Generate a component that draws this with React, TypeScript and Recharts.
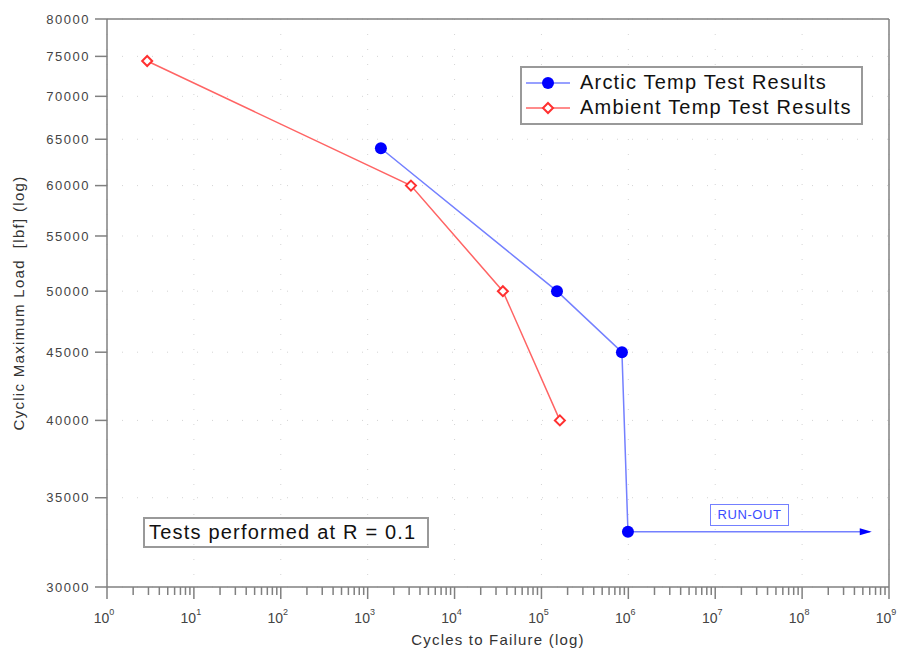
import React from 'react';
import {
  LineChart,
  Line,
  XAxis,
  YAxis,
  CartesianGrid,
  Legend,
  ReferenceLine
} from 'recharts';

// values (cycles on a log axis, load in lbf)
const arcticCycles = [1420, 151000, 844000, 990000];
const arcticLoad = [64000, 50000, 45000, 33000];
const ambientCycles = [2.9, 3150, 36000, 163000];
const ambientLoad = [74400, 60000, 50000, 40000];
const runOutCycles = [990000, 600000000];
const runOutLoad = [33000, 33000];

const decadeExponents = [0, 1, 2, 3, 4, 5, 6, 7, 8, 9];
const minorSteps = [1, 2, 3, 4, 5, 6, 7, 8, 9];
const loadTicks = [30000, 35000, 40000, 45000, 50000, 55000, 60000, 65000, 70000, 75000, 80000];
const legendOrder = ['Arctic Temp Test Results', 'Ambient Temp Test Results'];

const decades = decadeExponents.map(e => Math.pow(10, e));
const cycleTicks = decades.flatMap((d, i) =>
  i === decades.length - 1 ? [d] : minorSteps.map(s => s * d)
);

const arcticData = arcticCycles.map((c, i) => ({ cycles: c, load: arcticLoad[i] }));
const ambientData = ambientCycles.map((c, i) => ({ cycles: c, load: ambientLoad[i] }));
const runOutData = runOutCycles.map((c, i) => ({ cycles: c, load: runOutLoad[i] }));

const FONT = '"Liberation Sans", Arial, sans-serif';
const BLUE_LINE = '#7480ff';
const BLUE_DOT = '#0000ff';
const RED_LINE = '#ff6464';
const RED_DOT = '#ff3030';
const AXIS = '#808080';

function CycleTick(props: any) {
  const { x, y, payload } = props;
  const lg = Math.log10(payload.value);
  const exp = Math.round(lg);
  const major = Math.abs(lg - exp) < 1e-6;
  return (
    <g>
      <line x1={x} x2={x} y1={y} y2={y + (major ? 12 : 8)} stroke={AXIS} strokeWidth={1.5} />
      {major && (
        <text x={x - 3} y={y + 36} textAnchor="middle" fontSize={14} fill="#444" fontFamily={FONT}>
          10
          <tspan dy={-8} fontSize={9}>{exp}</tspan>
        </text>
      )}
    </g>
  );
}

function BlueDot(props: any) {
  const { cx, cy, index } = props;
  return <circle key={`a-${index}`} cx={cx} cy={cy} r={6} fill={BLUE_DOT} />;
}

function RedDot(props: any) {
  const { cx, cy, index } = props;
  const s = 5;
  return (
    <polygon
      key={`b-${index}`}
      points={`${cx},${cy - s} ${cx + s},${cy} ${cx},${cy + s} ${cx - s},${cy}`}
      fill="#fff"
      stroke={RED_DOT}
      strokeWidth={2}
    />
  );
}

function ArrowDot(props: any) {
  const { cx, cy, index } = props;
  if (index !== runOutData.length - 1) return <g key={`r-${index}`} />;
  return (
    <polygon
      key={`r-${index}`}
      points={`${cx - 10},${cy - 3.5} ${cx + 2},${cy} ${cx - 10},${cy + 3.5}`}
      fill={BLUE_DOT}
    />
  );
}

function YTitle(props: any) {
  const { viewBox } = props;
  const cy = viewBox.y + viewBox.height / 2;
  return (
    <text
      x={24}
      y={cy}
      transform={`rotate(-90, 24, ${cy})`}
      textAnchor="middle"
      fontSize={15}
      fill="#333"
      fontFamily={FONT}
      letterSpacing={1.3}
      style={{ whiteSpace: 'pre' }}
    >
      {'Cyclic Maximum Load  [lbf] (log)'}
    </text>
  );
}

function renderLegend(props: any) {
  const items = (props.payload || [])
    .filter((p: any) => p.type !== 'none')
    .sort((a: any, b: any) => legendOrder.indexOf(a.value) - legendOrder.indexOf(b.value));
  return (
    <div
      style={{
        border: '2px solid #999',
        background: '#fff',
        height: 53,
        boxSizing: 'content-box',
        paddingTop: 2,
        fontFamily: FONT
      }}
    >
      {items.map((item: any) => {
        const arctic = item.value.startsWith('Arctic');
        return (
          <div key={item.value} style={{ display: 'flex', alignItems: 'center', height: 25 }}>
            <svg width={50} height={20} style={{ marginLeft: 4 }}>
              <line x1={0} x2={44} y1={10} y2={10} stroke={arctic ? BLUE_LINE : RED_LINE} strokeWidth={1.5} />
              {arctic ? (
                <circle cx={22} cy={10} r={6} fill={BLUE_DOT} />
              ) : (
                <polygon points="22,5 27,10 22,15 17,10" fill="#fff" stroke={RED_DOT} strokeWidth={2} />
              )}
            </svg>
            <span style={{ fontSize: 20, letterSpacing: 1.2, color: '#111', marginLeft: 4 }}>{item.value}</span>
          </div>
        );
      })}
    </div>
  );
}

export default function App() {
  return (
    <div style={{ position: 'absolute', left: 0, top: 0, width: 901, height: 649, background: '#fff' }}>
      <LineChart width={901} height={649} margin={{ top: 19, right: 12, bottom: 0, left: 0 }}>
        <CartesianGrid
          stroke="#d4d4d4"
          strokeDasharray="1 14"
          verticalValues={decades}
          horizontalValues={loadTicks}
        />
        <XAxis
          dataKey="cycles"
          type="number"
          scale="log"
          domain={[1, 1e9]}
          ticks={cycleTicks}
          interval={0}
          allowDataOverflow
          height={62}
          tickSize={0}
          tickMargin={0}
          tickLine={false}
          tick={<CycleTick />}
          axisLine={{ stroke: AXIS, strokeWidth: 1.5 }}
          label={{
            value: 'Cycles to Failure (log)',
            position: 'insideBottom',
            offset: 4,
            fontSize: 15,
            fill: '#333',
            fontFamily: FONT,
            letterSpacing: 1.2
          }}
        />
        <YAxis
          dataKey="load"
          type="number"
          scale="log"
          domain={[30000, 80000]}
          ticks={loadTicks}
          interval={0}
          allowDataOverflow
          width={107}
          tickSize={12}
          tickMargin={5}
          tickLine={{ stroke: AXIS, strokeWidth: 1.5 }}
          axisLine={{ stroke: AXIS, strokeWidth: 1.5 }}
          tick={{ fontSize: 13, fill: '#444', fontFamily: FONT, letterSpacing: 1.5 }}
          label={<YTitle />}
        />
        <ReferenceLine y={80000} stroke={AXIS} strokeWidth={1.5} />
        <ReferenceLine x={1e9} stroke={AXIS} strokeWidth={1.5} />
        <Legend
          layout="vertical"
          align="center"
          verticalAlign="middle"
          wrapperStyle={{ left: 520, top: 66, width: 343 }}
          content={renderLegend}
        />
        <Line
          data={ambientData}
          dataKey="load"
          name="Ambient Temp Test Results"
          stroke={RED_LINE}
          strokeWidth={1.5}
          dot={RedDot}
          activeDot={false}
          isAnimationActive={false}
        />
        <Line
          data={runOutData}
          dataKey="load"
          name="Run-out"
          legendType="none"
          stroke={BLUE_LINE}
          strokeWidth={1.5}
          dot={ArrowDot}
          activeDot={false}
          isAnimationActive={false}
        />
        <Line
          data={arcticData}
          dataKey="load"
          name="Arctic Temp Test Results"
          stroke={BLUE_LINE}
          strokeWidth={1.5}
          dot={BlueDot}
          activeDot={false}
          isAnimationActive={false}
        />
      </LineChart>
      <div
        style={{
          position: 'absolute',
          left: 143,
          top: 517,
          width: 278,
          height: 27,
          border: '2px solid #999',
          fontFamily: FONT,
          fontSize: 20,
          letterSpacing: 1.2,
          color: '#111',
          lineHeight: '27px',
          paddingLeft: 4,
          whiteSpace: 'nowrap'
        }}
      >
        Tests performed at R = 0.1
      </div>
      <div
        style={{
          position: 'absolute',
          left: 710,
          top: 504,
          width: 77,
          height: 20,
          border: `1px solid ${BLUE_LINE}`,
          fontFamily: FONT,
          fontSize: 13,
          letterSpacing: 0.6,
          color: '#3b4cff',
          lineHeight: '20px',
          textAlign: 'center',
          whiteSpace: 'nowrap'
        }}
      >
        RUN-OUT
      </div>
    </div>
  );
}
